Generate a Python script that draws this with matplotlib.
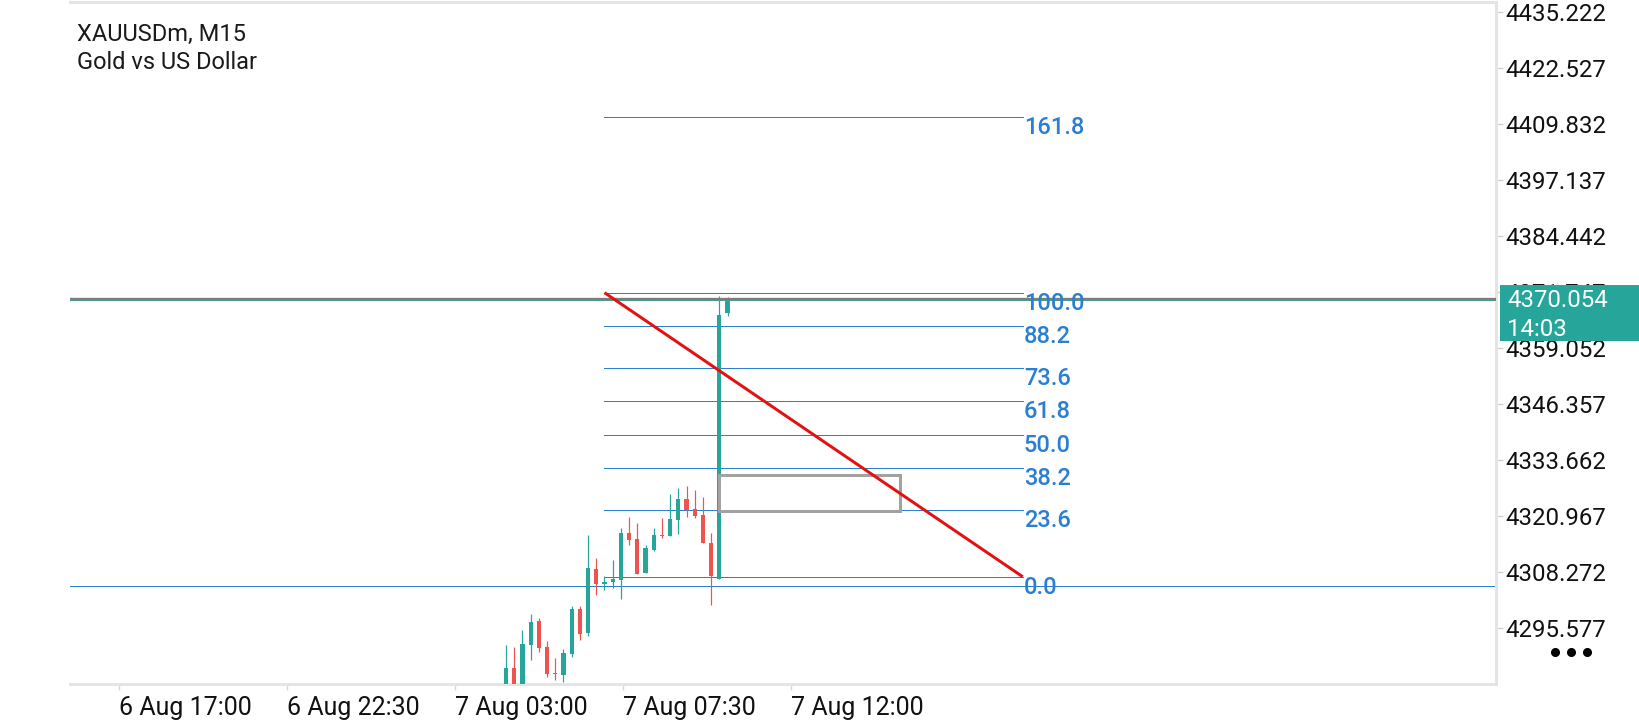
import matplotlib
matplotlib.use('Agg')
import matplotlib.pyplot as plt
from matplotlib.patches import Rectangle
from matplotlib.lines import Line2D
import matplotlib.transforms as mtransforms

plt.rcParams['font.family'] = ['Roboto', 'DejaVu Sans']

# ---- data ----
opens  = [4280.5, 4286.4, 4281.2, 4291.7, 4297.0, 4291.1, 4285.3, 4284.8, 4289.6, 4299.8,
          4294.4, 4308.9, 4305.5, 4305.8, 4306.4, 4317.0, 4315.7, 4308.0, 4313.2, 4316.6,
          4316.4, 4320.0, 4324.8, 4322.5, 4321.1, 4314.8, 4306.7, 4366.9]
highs  = [4291.6, 4291.1, 4295.0, 4298.6, 4297.7, 4292.5, 4288.6, 4290.8, 4300.5, 4300.5,
          4316.6, 4311.3, 4307.2, 4310.9, 4318.1, 4320.7, 4319.3, 4314.3, 4318.2, 4320.4,
          4326.0, 4327.3, 4327.7, 4326.8, 4325.2, 4317.0, 4370.85, 4370.7]
lows   = [4279.0, 4279.5, 4280.0, 4288.2, 4290.1, 4284.4, 4283.6, 4283.1, 4288.8, 4292.8,
          4293.7, 4303.0, 4304.1, 4304.6, 4302.1, 4314.3, 4307.8, 4308.0, 4313.0, 4316.0,
          4316.4, 4316.9, 4320.7, 4320.5, 4314.8, 4300.8, 4306.7, 4366.4]
closes = [4286.4, 4281.0, 4291.9, 4296.8, 4291.0, 4285.1, 4285.0, 4289.8, 4299.8, 4294.2,
          4309.1, 4305.5, 4305.9, 4306.7, 4317.0, 4315.4, 4307.8, 4313.6, 4316.6, 4316.3,
          4320.2, 4324.8, 4322.3, 4321.0, 4314.8, 4307.3, 4366.5, 4370.054]

fib_levels = [0.0, 23.6, 38.2, 50.0, 61.8, 73.6, 88.2, 100.0, 161.8]
fib_labels = ["0.0", "23.6", "38.2", "50.0", "61.8", "73.6", "88.2", "100.0", "161.8"]
fib_price_0 = 4307.1
fib_price_100 = 4371.6
fib_start_bar = 12
fib_end_bar = 63

rect_bars = [26, 48]
rect_prices = [4322.0, 4330.2]

hline_price = 4305.0
current_price = 4370.054
timer_text = "14:03"

ytick_values = [4295.577, 4308.272, 4320.967, 4333.662, 4346.357, 4359.052,
                4371.747, 4384.442, 4397.137, 4409.832, 4422.527, 4435.222]
xtick_pos = [-47.2, -26.7, -6.2, 14.27, 34.76]
xtick_labels = ["6 Aug 17:00", "6 Aug 22:30", "7 Aug 03:00", "7 Aug 07:30", "7 Aug 12:00"]

title_lines = ["XAUUSDm, M15", "Gold vs US Dollar"]

# ---- styles ----
W, H = 1640, 720
GREEN = '#26a69a'
RED = '#ef5350'
FIB = '#2b7fd3'
FRAME = '#e4e4e4'
PX = 0.72  # 1 pixel in points at dpi=100

fig = plt.figure(figsize=(16.4, 7.2), dpi=100)
fig.patch.set_facecolor('white')
ax = fig.add_axes([70 / W, 1 - 684 / H, (1496 - 70) / W, (684 - 2) / H])
ax.set_xlim(-53.17, 120.7)
ax.set_ylim(4282.75, 4437.6)

for s in ['top', 'right', 'bottom']:
    ax.spines[s].set_color(FRAME)
    ax.spines[s].set_linewidth(3 * PX)
ax.spines['left'].set_visible(False)

ax.yaxis.tick_right()
ax.set_yticks(ytick_values)
ax.set_yticklabels([f"{v:.3f}" for v in ytick_values])
ax.tick_params(axis='y', length=5, width=1, color='#cfcfcf', pad=2, labelsize=17.3, labelcolor='#111111')
ax.set_xticks(xtick_pos)
ax.set_xticklabels(xtick_labels, ha='left')
ax.tick_params(axis='x', length=4, width=1, color='#d8d8d8', pad=5, labelsize=18, labelcolor='#111111')

# horizontal lines
ax.axhline(hline_price, color=FIB, lw=1 * PX, zorder=2)
ax.axhline(current_price + 0.2, color='#7f7c79', lw=2.3 * PX, zorder=5)
ax.axhline(current_price - 0.2, color='#4f9a92', lw=1.0 * PX, zorder=5)

# candles
xs = list(range(len(opens)))
for i in xs:
    o, h, l, c = opens[i], highs[i], lows[i], closes[i]
    col = GREEN if c >= o else RED
    ax.vlines(i, l, h, color=col, lw=1.2 * PX, zorder=3)
    bottom = min(o, c)
    height = max(abs(c - o), 0.3)
    ax.bar(i, height, bottom=bottom, width=0.5, color=col, edgecolor=col, lw=0, zorder=4)

# fibonacci levels
off = mtransforms.offset_copy(ax.transData, fig=fig, x=1, y=1, units='dots')
for lv, lab in zip(fib_levels, fib_labels):
    p = fib_price_0 + (fib_price_100 - fib_price_0) * lv / 100.0
    ax.plot([fib_start_bar, fib_end_bar], [p, p], color=FIB, lw=1 * PX, zorder=2)
    ax.text(fib_end_bar, p, lab, transform=off, ha='left', va='top', color=FIB,
            fontsize=17, fontweight='medium', zorder=6)

# trend line
ax.plot([fib_start_bar, fib_end_bar], [fib_price_100, fib_price_0], color='#e31212',
        lw=3 * PX, zorder=6, solid_capstyle='butt')

# rectangle
ax.add_patch(Rectangle((rect_bars[0], rect_prices[0]), rect_bars[1] - rect_bars[0],
                       rect_prices[1] - rect_prices[0], fill=False, edgecolor='#a2a2a2',
                       lw=3 * PX, zorder=5))

# title text
fig.text(77 / W, 1 - 41 / H, title_lines[0], ha='left', va='baseline', fontsize=17, color='#1a1a1a')
fig.text(77 / W, 1 - 69 / H, title_lines[1], ha='left', va='baseline', fontsize=17, color='#1a1a1a')

# price label box
fig.add_artist(Rectangle((1500 / W, 1 - 341 / H), 140 / W, 56 / H, transform=fig.transFigure,
                         facecolor=GREEN, edgecolor='none', zorder=10))
fig.add_artist(Line2D([1500 / W, 1], [1 - 285 / H, 1 - 285 / H], transform=fig.transFigure,
                      color='#d9605a', lw=1 * PX, zorder=11))
fig.text(1507 / W, 1 - 300 / H, f"{current_price:.3f}", ha='left', va='center', color='white',
         fontsize=17.3, zorder=12)
fig.text(1507 / W, 1 - 330 / H, timer_text, ha='left', va='center', color='white',
         fontsize=17.3, zorder=12)

# three dots
fig.add_artist(Line2D([1555 / W, 1571 / W, 1587 / W], [1 - 652 / H] * 3, transform=fig.transFigure,
                      marker='o', ms=5.5, linestyle='none', color='black', zorder=10))

fig.savefig('out.png', dpi=100)
